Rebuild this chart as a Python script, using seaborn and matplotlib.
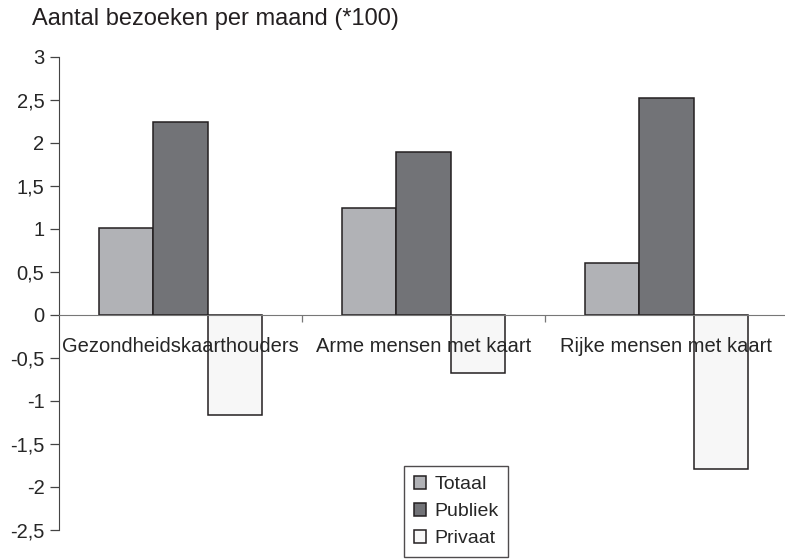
import pandas as pd
import numpy as np
import matplotlib
matplotlib.use("Agg")
import matplotlib.pyplot as plt
import seaborn as sns
from matplotlib.ticker import FixedLocator, FuncFormatter

categories = ["Gezondheidskaarthouders", "Arme mensen met kaart", "Rijke mensen met kaart"]
series = ["Totaal", "Publiek", "Privaat"]
totaal = [1.01, 1.24, 0.60]
publiek = [2.25, 1.89, 2.52]
privaat = [-1.16, -0.67, -1.79]
colors = ["#b1b2b6", "#727377", "#f7f7f7"]

df = pd.DataFrame({
    "categorie": categories * 3,
    "reeks": np.repeat(series, 3),
    "waarde": totaal + publiek + privaat,
})

sns.set_style("white")
plt.rcParams["font.family"] = ["Liberation Sans", "DejaVu Sans"]

fig = plt.figure(figsize=(7.85, 5.6), dpi=100)
ax = fig.add_axes([59 / 785, 30 / 560, 729 / 785, 473 / 560])

sns.barplot(data=df, x="categorie", y="waarde", hue="reeks", hue_order=series,
            order=categories, palette=colors, width=0.67, gap=0,
            edgecolor="#231f20", linewidth=1.1, saturation=1, ax=ax, legend=True)

ax.set_ylim(-2.5, 3)
ax.set_xlim(-0.5, 2.5)
ax.set_xlabel("")
ax.set_ylabel("")

ax.yaxis.set_major_locator(FixedLocator(np.arange(-2.5, 3.01, 0.5)))
ax.yaxis.set_major_formatter(FuncFormatter(lambda v, p: f"{v:g}".replace(".", ",")))
ax.tick_params(axis="y", direction="out", length=6.5, width=0.9, color="#444444",
               labelsize=14.5, pad=4, left=True)

ax.spines["top"].set_visible(False)
ax.spines["right"].set_visible(False)
ax.spines["left"].set_color("#444444")
ax.spines["bottom"].set_color("#777777")
ax.spines["bottom"].set_position(("data", 0))

ax.xaxis.set_minor_locator(FixedLocator([0.5, 1.5]))
ax.tick_params(axis="x", which="major", length=0, labelsize=14.5, pad=16)
ax.tick_params(axis="x", which="minor", direction="out", length=5, width=0.9,
               color="#777777", bottom=True)
# category labels drawn over the bars, as in the original
ax.xaxis.set_zorder(5)

ax.get_legend().remove()
handles, labels = ax.get_legend_handles_labels()
leg = fig.legend(handles, labels, loc="upper left", bbox_to_anchor=(404 / 785, 1 - 466 / 560),
                 borderaxespad=0, frameon=True, fancybox=False, fontsize=14,
                 handlelength=0.65, handleheight=0.65, handletextpad=0.4,
                 labelspacing=0.5, borderpad=0.5)
leg.get_frame().set_edgecolor("#231f20")
leg.get_frame().set_linewidth(1.0)

fig.text(32 / 785, 1 - 8 / 560, "Aantal bezoeken per maand (*100)", fontsize=17,
         ha="left", va="top", color="#231f20")

plt.savefig("out.png", dpi=100)
